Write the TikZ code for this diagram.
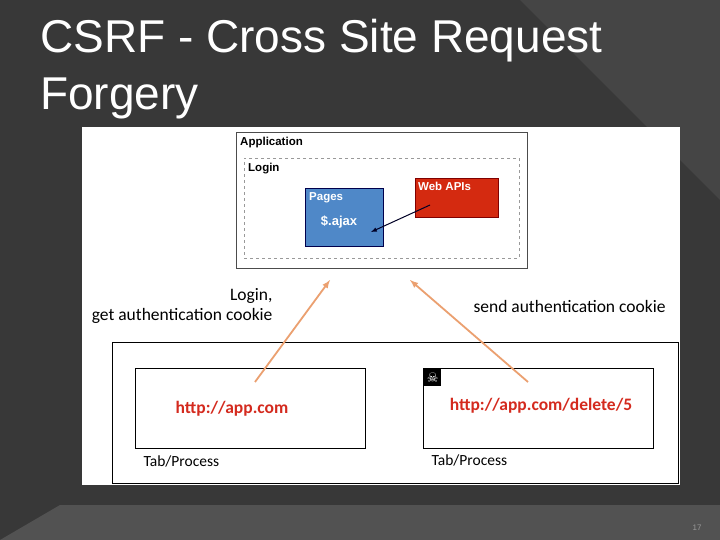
\documentclass[tikz,border=0pt]{standalone}
\usepackage{fontspec}
\setmainfont{Liberation Sans}
\newfontfamily\dejafont{DejaVu Sans}
\newfontfamily\carlfont{Carlito}
\definecolor{pblue}{HTML}{4F88C8}
\definecolor{ared}{HTML}{D42A10}
\definecolor{urlred}{HTML}{D42A1E}
\definecolor{arrorange}{HTML}{EBA070}
\begin{document}
\begin{tikzpicture}[x=1pt,y=-1pt,
  box/.style={draw=black,line width=1.3pt,fill=white},
  lbl/.style={font=\carlfont\fontsize{15.5}{18}\selectfont,text=black},
  url/.style={font=\carlfont\bfseries\fontsize{17.5}{20}\selectfont,text=urlred},
  arr/.style={->,>=latex,line width=1.8pt,draw=arrorange}]
\useasboundingbox (0,0) rectangle (720,540);
\fill[black!78] (0,0) rectangle (720,540);
\fill[black!73] (520,0) -- (720,0) -- (720,200) -- cycle;
\fill[black!68] (0,540) -- (60,505) -- (720,505) -- (720,540) -- cycle;
\node[anchor=north west,align=left,text=white,font=\fontsize{46}{57}\selectfont,inner sep=0] (title) at (40,19) {CSRF - Cross Site Request\\Forgery};
\fill[white] (82,127) rectangle (680,485);
\node[draw=black!70,line width=1pt,minimum width=291,minimum height=136,anchor=north west] (app) at (236,132) {};
\node[anchor=north west,font=\bfseries\fontsize{11.5}{13}\selectfont,inner sep=0] (appl) at (240,137) {Application};
\node[draw=black!40,dashed,minimum width=275,minimum height=100,anchor=north west] (login) at (244,158) {};
\node[anchor=north west,font=\bfseries\fontsize{11.5}{13}\selectfont,inner sep=0] (loginl) at (248,163) {Login};
\node[draw=blue!30!black,fill=pblue,minimum width=78,minimum height=58,anchor=north west] (pages) at (305,188) {};
\node[anchor=north west,text=white,font=\bfseries\fontsize{11.5}{13}\selectfont,inner sep=0] (pagesl) at (309,192) {Pages};
\node[text=white,font=\bfseries\fontsize{13}{14}\selectfont,inner sep=0] (ajax) at (339,222) {\$.ajax};
\node[fill=ared,draw=red!50!black,minimum width=83,minimum height=39,anchor=north west] (api) at (415,178) {};
\node[anchor=north west,text=white,font=\bfseries\fontsize{11.5}{13}\selectfont,inner sep=0] (apil) at (418,182) {Web APIs};
\coordinate (a1) at (430,205); \coordinate (a2) at (371,232);
\draw[->,>=latex,line width=1pt,black!85!blue] (a1) -- (a2);
\node[box,minimum width=566,minimum height=141,anchor=north west] (outer) at (112,342) {};
\node[box,minimum width=230,minimum height=80,anchor=north west] (tab1) at (135,368) {};
\node[box,minimum width=230,minimum height=80,anchor=north west] (tab2) at (423,368) {};
\node[url] (u1) at (232,409) {http://app.com};
\node[url] (u2) at (541,406) {http://app.com/delete/5};
\node[lbl,anchor=west] (t1) at (140,461) {Tab/Process};
\node[lbl,anchor=west] (t2) at (428,460) {Tab/Process};
\node[fill=black,minimum size=17,inner sep=0,text=white,font=\dejafont\fontsize{13}{13}\selectfont,anchor=north west] (sk) at (424,369) {☠};
\coordinate (s1) at (255,382); \coordinate (e1) at (330,280);
\coordinate (s2) at (528,382); \coordinate (e2) at (410,280);
\draw[arr] (s1) -- (e1);
\draw[arr] (s2) -- (e2);
\node[lbl,font=\carlfont\fontsize{17.5}{20}\selectfont,align=right,anchor=east] (l1) at (276,306) {Login,\\get authentication cookie};
\node[lbl,font=\carlfont\fontsize{17.5}{20}\selectfont,anchor=west] (l2) at (470,306) {send authentication cookie};
\node[text=black!40,font=\fontsize{8}{9}\selectfont] (pn) at (697,528) {17};
\end{tikzpicture}
\end{document}
